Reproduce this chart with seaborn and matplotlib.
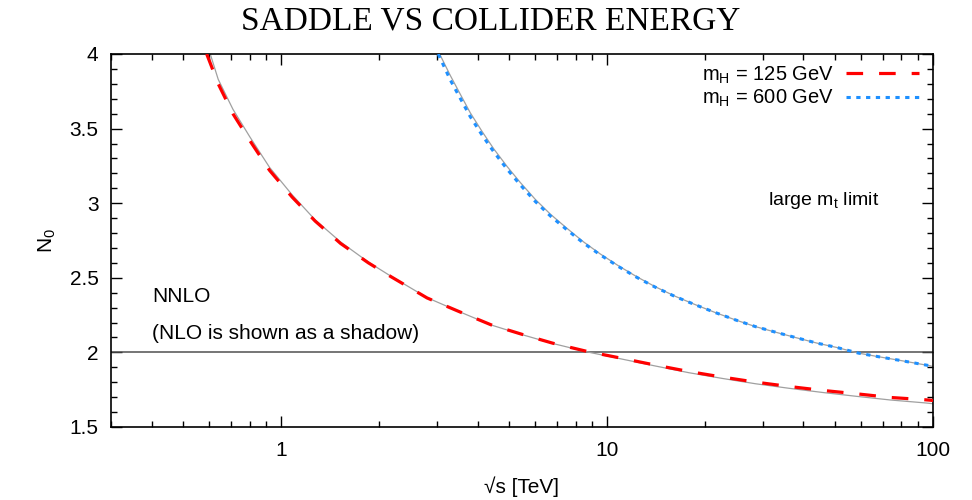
import numpy as np
import pandas as pd
import matplotlib
matplotlib.use("Agg")
import matplotlib.pyplot as plt
from matplotlib.ticker import FixedLocator, NullFormatter, MultipleLocator
import seaborn as sns

# ---- data ----
x_red = [0.59, 0.64, 0.71, 0.80, 0.92, 1.08, 1.27, 1.52, 1.85, 2.16, 2.8, 3.5, 4.4, 5.5,
         6.8, 8.7, 11, 13.9, 17.8, 22.5, 28.5, 36, 46, 58, 74, 94, 100]
y_red = [4.0, 3.80, 3.60, 3.42, 3.22, 3.04, 2.88, 2.73, 2.60, 2.51, 2.365, 2.275, 2.185, 2.12,
         2.062, 2.006, 1.962, 1.917, 1.872, 1.835, 1.801, 1.772, 1.745, 1.723, 1.698, 1.683, 1.678]

x_red_nlo = [0.605, 0.64, 0.71, 0.80, 0.92, 1.08, 1.27, 1.52, 1.85, 2.16, 2.8, 3.5, 4.4, 5.5,
             6.8, 8.7, 11, 13.9, 17.8, 22.5, 28.5, 36, 46, 58, 74, 94, 100]
y_red_nlo = [4.0, 3.83, 3.63, 3.445, 3.24, 3.055, 2.888, 2.74, 2.605, 2.513, 2.367, 2.275, 2.184, 2.118,
             2.06, 2.003, 1.957, 1.911, 1.864, 1.826, 1.79, 1.76, 1.731, 1.706, 1.681, 1.662, 1.656]

x_blue = [3.03, 3.30, 3.54, 3.80, 4.13, 4.48, 4.93, 5.41, 6.02, 6.69,
          7.53, 8.47, 9.52, 10.84, 12.35, 14.05, 16.18, 18.64, 21.47, 24.74,
          28.5, 32.8, 37.8, 44.1, 50.7, 59.1, 68.9, 79.4, 98.1, 100]
y_blue = [4.0, 3.826, 3.703, 3.58, 3.457, 3.346, 3.228, 3.123, 3.011, 2.915,
          2.821, 2.732, 2.654, 2.575, 2.502, 2.437, 2.374, 2.319, 2.267, 2.218,
          2.173, 2.136, 2.1, 2.062, 2.033, 1.995, 1.969, 1.946, 1.910, 1.906]

x_blue_nlo = [3.06, 3.30, 3.54, 3.80, 4.13, 4.48, 4.93, 5.41, 6.02, 6.69,
              7.53, 8.47, 9.52, 10.84, 12.35, 14.05, 16.18, 18.64, 21.47, 24.74,
              28.5, 32.8, 37.8, 44.1, 50.7, 59.1, 68.9, 79.4, 98.1, 100]
y_blue_nlo = [4.0, 3.856, 3.731, 3.606, 3.481, 3.366, 3.246, 3.139, 3.025, 2.927,
              2.831, 2.740, 2.660, 2.580, 2.506, 2.440, 2.376, 2.320, 2.267, 2.218,
              2.173, 2.136, 2.1, 2.062, 2.033, 1.995, 1.969, 1.946, 1.910, 1.905]

series_labels = ["m$_\\mathrm{H}$ = 125 GeV", "m$_\\mathrm{H}$ = 600 GeV"]
ref_level = 2.0
x_major = [1, 10, 100]
x_major_labels = ["1", "10", "100"]
y_major = [1.5, 2, 2.5, 3, 3.5, 4]
y_major_labels = ["1.5", "2", "2.5", "3", "3.5", "4"]

# ---- style ----
sns.set_theme(style="ticks")
plt.rcParams["font.family"] = ["Liberation Sans", "DejaVu Sans"]
plt.rcParams["mathtext.fontset"] = "custom"
plt.rcParams["mathtext.rm"] = "Liberation Sans"
plt.rcParams["mathtext.it"] = "Liberation Sans:italic"
plt.rcParams["mathtext.bf"] = "Liberation Sans:bold"
plt.rcParams["text.color"] = "black"
plt.rcParams["axes.labelcolor"] = "black"
plt.rcParams["xtick.color"] = "black"
plt.rcParams["ytick.color"] = "black"

fig = plt.figure(figsize=(9.72, 5.0), dpi=100)
ax = fig.add_axes([111 / 972, 1 - 427 / 500, (933 - 111) / 972, (427 - 54) / 500])

nlo_df1 = pd.DataFrame({"x": x_red_nlo, "y": y_red_nlo})
nlo_df2 = pd.DataFrame({"x": x_blue_nlo, "y": y_blue_nlo})
df1 = pd.DataFrame({"x": x_red, "y": y_red})
df2 = pd.DataFrame({"x": x_blue, "y": y_blue})

ax.axhline(ref_level, color="#505050", lw=1.1, zorder=1)
sns.lineplot(data=nlo_df1, x="x", y="y", ax=ax, color="#a0a0a0", lw=0.9, zorder=2)
sns.lineplot(data=nlo_df2, x="x", y="y", ax=ax, color="#a0a0a0", lw=0.9, zorder=2)
sns.lineplot(data=df1, x="x", y="y", ax=ax, color="#ff0000", lw=2.3, zorder=3)
ax.lines[-1].set_dashes((5.2, 5.0))
h1 = ax.lines[-1]
sns.lineplot(data=df2, x="x", y="y", ax=ax, color="#1e90ff", lw=2.2, zorder=3)
ax.lines[-1].set_dashes((1.4, 1.8))
h2 = ax.lines[-1]

ax.set_xscale("log")
ax.set_xlim(0.3, 100)
ax.set_ylim(1.5, 4)

ax.xaxis.set_major_locator(FixedLocator(x_major))
ax.set_xticklabels(x_major_labels)
ax.xaxis.set_minor_locator(FixedLocator([0.3, 0.4, 0.5, 0.6, 0.7, 0.8, 0.9,
                                         2, 3, 4, 5, 6, 7, 8, 9,
                                         20, 30, 40, 50, 60, 70, 80, 90]))
ax.xaxis.set_minor_formatter(NullFormatter())
ax.yaxis.set_major_locator(FixedLocator(y_major))
ax.set_yticklabels(y_major_labels)
ax.yaxis.set_minor_locator(MultipleLocator(0.1))

ax.tick_params(which="both", direction="in", top=True, right=True, color="black", width=1.0)
ax.tick_params(which="major", length=8, labelsize=15, pad=9)
ax.tick_params(which="minor", length=4)
ax.tick_params(axis="x", which="major", pad=10)
for s in ax.spines.values():
    s.set_color("black")
    s.set_linewidth(1.2)

ax.set_xlabel("√s [TeV]", fontsize=15, labelpad=12)
ax.set_ylabel("N$_\\mathrm{0}$", fontsize=15, labelpad=8)

ax.text(0.05, 0.351, "NNLO", transform=ax.transAxes, fontsize=15, va="center", ha="left")
ax.text(0.05, 0.252, "(NLO is shown as a shadow)", transform=ax.transAxes, fontsize=15,
        va="center", ha="left")
ax.text(0.799, 0.606, "large m$_\\mathrm{t}$ limit", transform=ax.transAxes, fontsize=14,
        va="center", ha="left")

leg = ax.legend([h1, h2], series_labels, loc="upper right", frameon=False, markerfirst=False,
                fontsize=14.5, handlelength=3.6, handletextpad=0.6, labelspacing=0.12,
                borderaxespad=0.3, bbox_to_anchor=(1.0, 1.01))

fig.text(491 / 972, 1 - 21 / 500, "SADDLE VS COLLIDER ENERGY", ha="center", va="center",
         fontsize=24, family=["Liberation Serif", "DejaVu Serif"])

fig.savefig("out.png", dpi=100)
